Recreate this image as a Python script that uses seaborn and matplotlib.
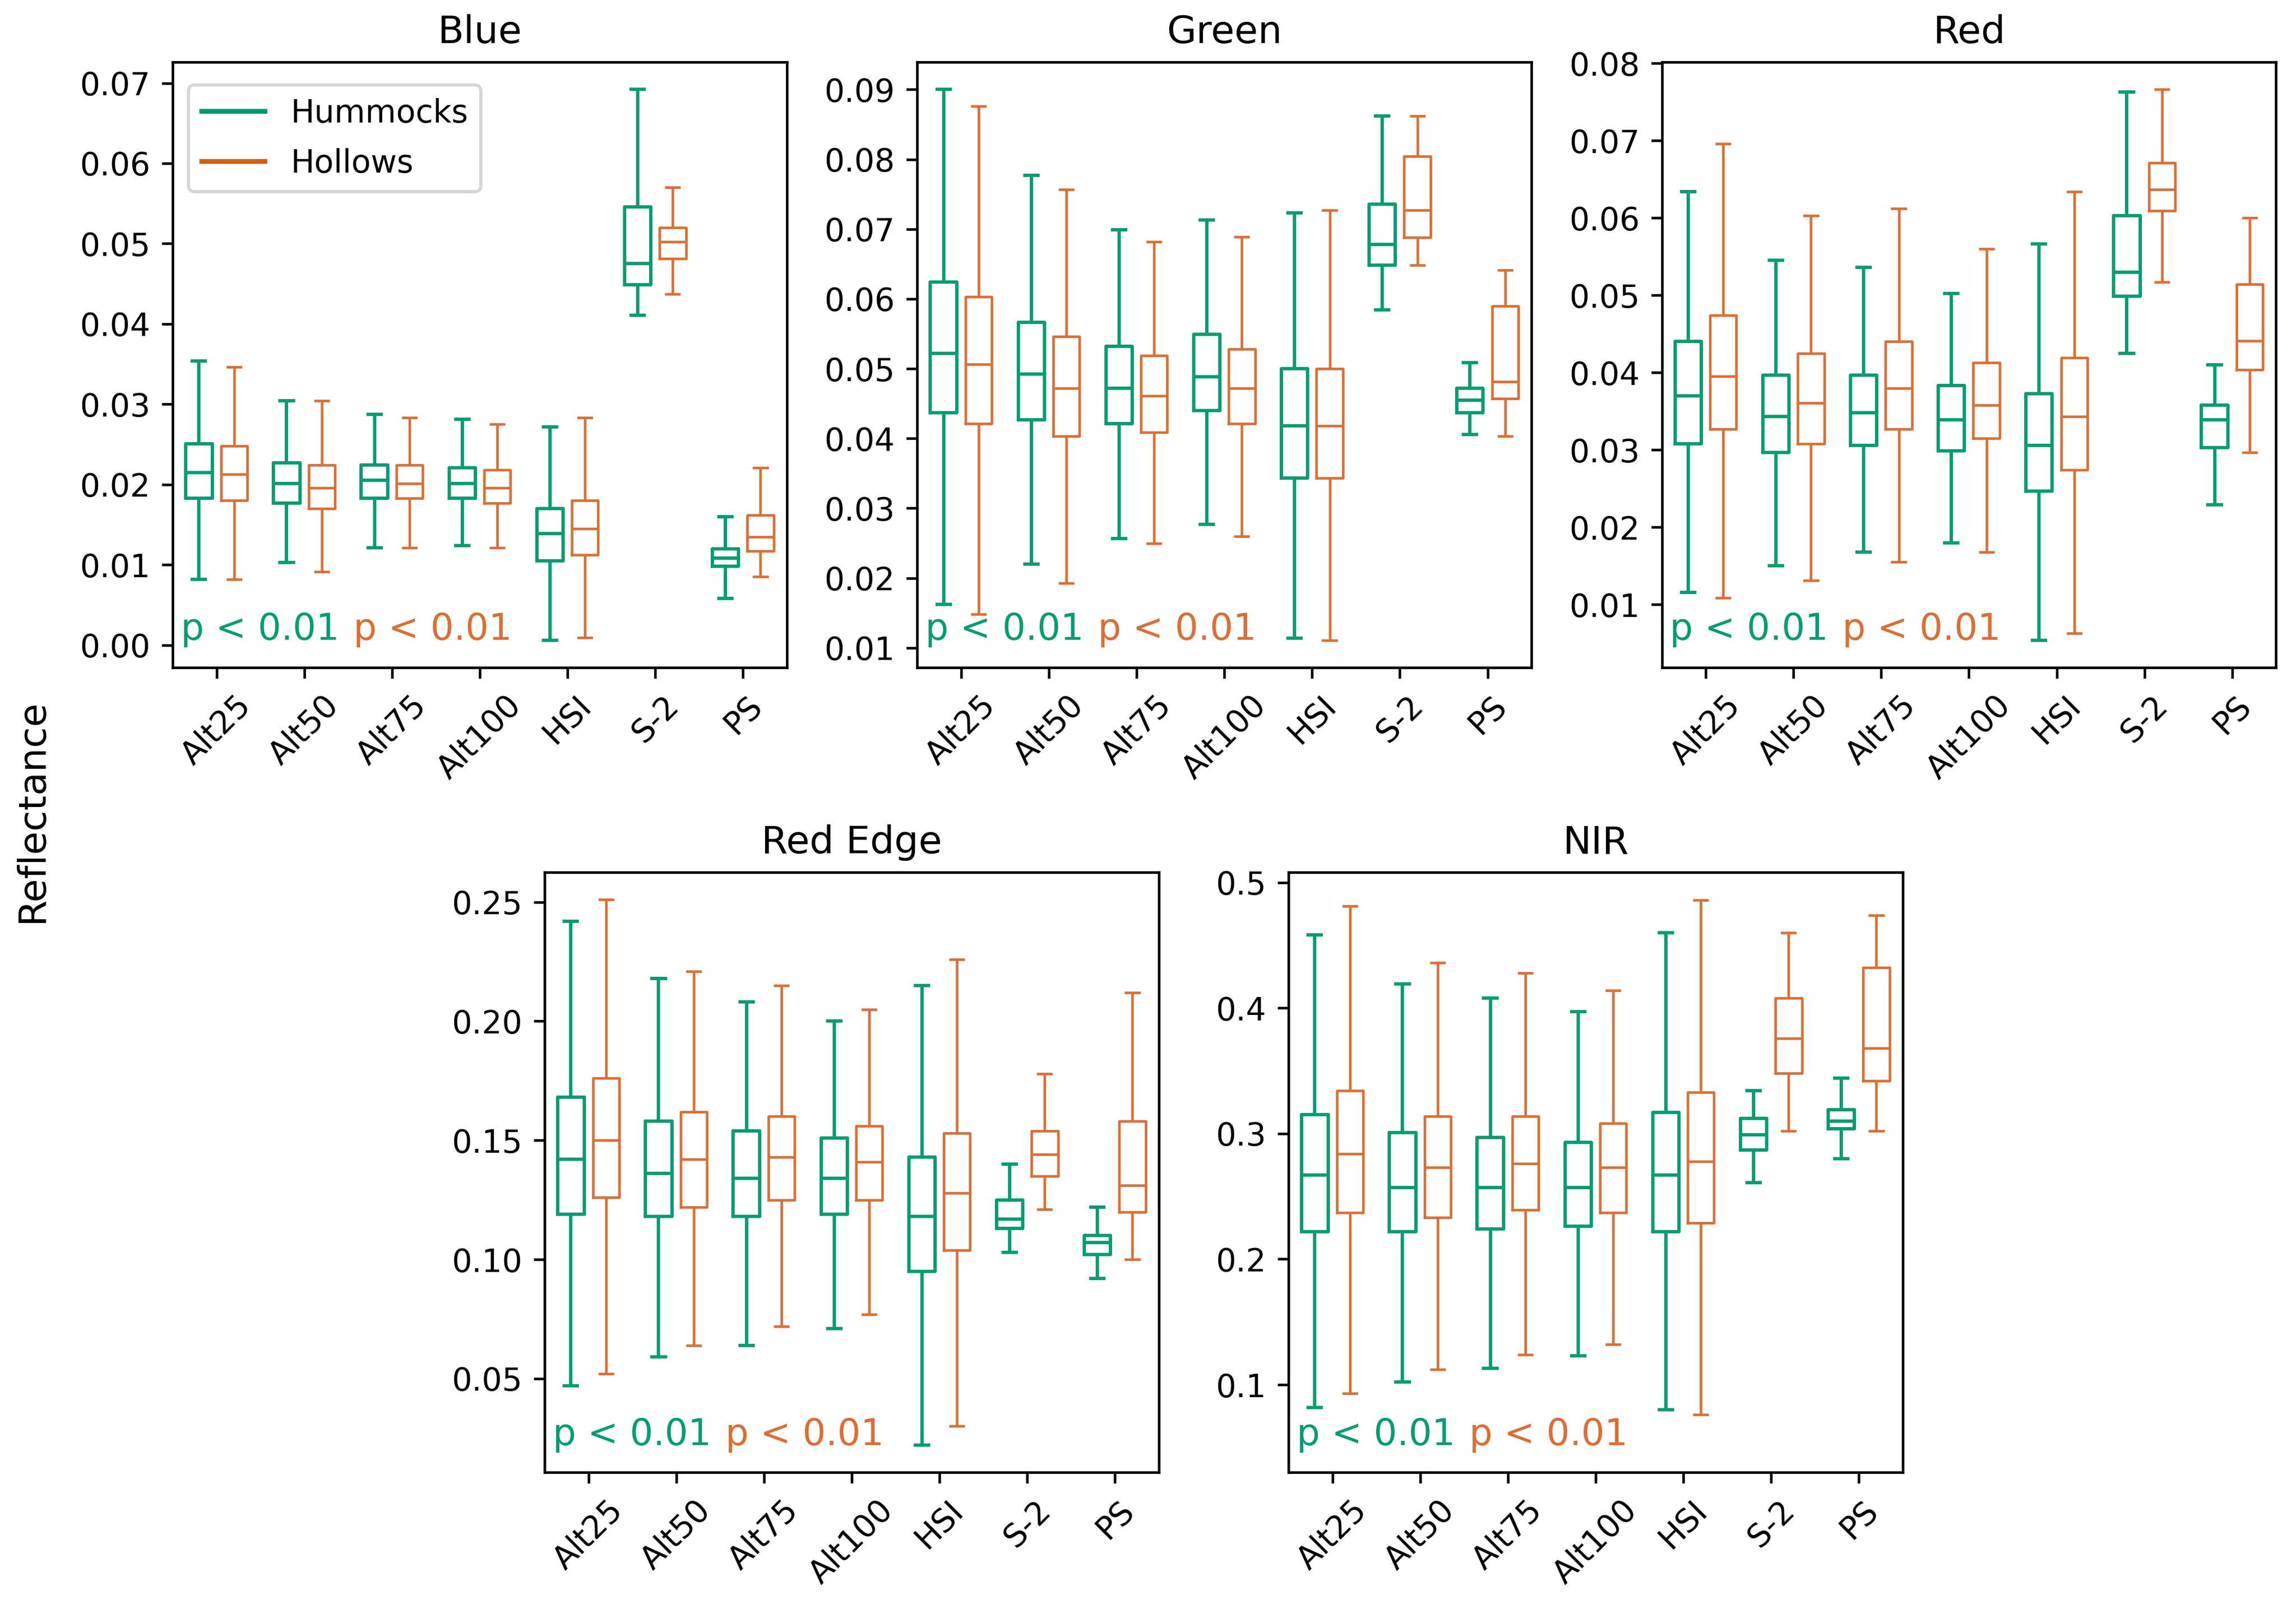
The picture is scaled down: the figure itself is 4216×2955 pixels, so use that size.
import pandas as pd
import numpy as np
import matplotlib.pyplot as plt
import matplotlib.colors as mcolors
import seaborn as sns
from matplotlib.lines import Line2D

# box stats per sensor: [whisker low, q1, median, q3, whisker high]
sensors = ['Alt25', 'Alt50', 'Alt75', 'Alt100', 'HSI', 'S-2', 'PS']
groups = ['Hummocks', 'Hollows']
bands = ['Blue', 'Green', 'Red', 'Red Edge', 'NIR']

blue_hum = [[0.0082, 0.0183, 0.0215, 0.0251, 0.0354],
            [0.0103, 0.0177, 0.0201, 0.0227, 0.0304],
            [0.0121, 0.0183, 0.0205, 0.0224, 0.0287],
            [0.0124, 0.0183, 0.0201, 0.0221, 0.0281],
            [0.0006, 0.0105, 0.0139, 0.0170, 0.0272],
            [0.0411, 0.0449, 0.0475, 0.0546, 0.0692],
            [0.0058, 0.0098, 0.0108, 0.0120, 0.0160]]
blue_hol = [[0.0082, 0.0180, 0.0213, 0.0248, 0.0346],
            [0.0091, 0.0170, 0.0196, 0.0224, 0.0304],
            [0.0121, 0.0183, 0.0201, 0.0224, 0.0283],
            [0.0121, 0.0177, 0.0196, 0.0218, 0.0275],
            [0.0009, 0.0112, 0.0145, 0.0180, 0.0283],
            [0.0437, 0.0481, 0.0502, 0.0520, 0.0570],
            [0.0085, 0.0117, 0.0135, 0.0162, 0.0221]]

green_hum = [[0.0162, 0.0437, 0.0522, 0.0624, 0.0900],
             [0.0220, 0.0427, 0.0492, 0.0566, 0.0777],
             [0.0257, 0.0421, 0.0472, 0.0532, 0.0699],
             [0.0277, 0.0440, 0.0488, 0.0549, 0.0713],
             [0.0114, 0.0343, 0.0418, 0.0500, 0.0723],
             [0.0584, 0.0648, 0.0678, 0.0736, 0.0862],
             [0.0406, 0.0437, 0.0455, 0.0472, 0.0509]]
green_hol = [[0.0148, 0.0421, 0.0506, 0.0603, 0.0876],
             [0.0193, 0.0403, 0.0472, 0.0546, 0.0757],
             [0.0250, 0.0409, 0.0461, 0.0519, 0.0682],
             [0.0260, 0.0421, 0.0472, 0.0528, 0.0689],
             [0.0111, 0.0343, 0.0418, 0.0500, 0.0727],
             [0.0648, 0.0688, 0.0727, 0.0804, 0.0862],
             [0.0403, 0.0457, 0.0481, 0.0590, 0.0641]]

red_hum = [[0.0116, 0.0308, 0.0370, 0.0440, 0.0634],
           [0.0150, 0.0297, 0.0343, 0.0397, 0.0545],
           [0.0168, 0.0306, 0.0348, 0.0397, 0.0536],
           [0.0180, 0.0299, 0.0339, 0.0383, 0.0502],
           [0.0054, 0.0247, 0.0306, 0.0373, 0.0566],
           [0.0425, 0.0499, 0.0530, 0.0603, 0.0763],
           [0.0229, 0.0303, 0.0339, 0.0358, 0.0410]]
red_hol = [[0.0109, 0.0327, 0.0395, 0.0474, 0.0696],
           [0.0131, 0.0308, 0.0361, 0.0425, 0.0603],
           [0.0155, 0.0327, 0.0380, 0.0440, 0.0612],
           [0.0168, 0.0315, 0.0358, 0.0413, 0.0560],
           [0.0063, 0.0274, 0.0343, 0.0419, 0.0634],
           [0.0517, 0.0609, 0.0637, 0.0671, 0.0766],
           [0.0297, 0.0404, 0.0441, 0.0514, 0.0600]]

rededge_hum = [[0.047, 0.119, 0.142, 0.168, 0.242],
               [0.059, 0.118, 0.136, 0.158, 0.218],
               [0.064, 0.118, 0.134, 0.154, 0.208],
               [0.071, 0.119, 0.134, 0.151, 0.200],
               [0.022, 0.095, 0.118, 0.143, 0.215],
               [0.103, 0.113, 0.117, 0.125, 0.140],
               [0.092, 0.102, 0.107, 0.110, 0.122]]
rededge_hol = [[0.052, 0.126, 0.150, 0.176, 0.251],
               [0.064, 0.122, 0.142, 0.162, 0.221],
               [0.072, 0.125, 0.143, 0.160, 0.215],
               [0.077, 0.125, 0.141, 0.156, 0.205],
               [0.030, 0.104, 0.128, 0.153, 0.226],
               [0.121, 0.135, 0.144, 0.154, 0.178],
               [0.100, 0.120, 0.131, 0.158, 0.212]]

nir_hum = [[0.082, 0.222, 0.267, 0.315, 0.458],
           [0.102, 0.222, 0.257, 0.301, 0.419],
           [0.113, 0.224, 0.257, 0.297, 0.408],
           [0.123, 0.226, 0.257, 0.293, 0.397],
           [0.080, 0.222, 0.267, 0.317, 0.460],
           [0.261, 0.287, 0.299, 0.312, 0.334],
           [0.280, 0.304, 0.310, 0.319, 0.344]]
nir_hol = [[0.093, 0.237, 0.284, 0.334, 0.481],
           [0.112, 0.233, 0.273, 0.314, 0.436],
           [0.124, 0.239, 0.276, 0.314, 0.428],
           [0.132, 0.237, 0.273, 0.308, 0.414],
           [0.076, 0.229, 0.278, 0.333, 0.486],
           [0.302, 0.348, 0.376, 0.408, 0.460],
           [0.302, 0.342, 0.368, 0.432, 0.474]]

p_text = 'p < 0.01'
nir_ylim = (0.030, 0.508)

stats = {'Blue': (blue_hum, blue_hol), 'Green': (green_hum, green_hol),
         'Red': (red_hum, red_hol), 'Red Edge': (rededge_hum, rededge_hol),
         'NIR': (nir_hum, nir_hol)}

# five values per box -> quartiles land exactly on q1/median/q3, whiskers on min/max
rows = []
for band in bands:
    for grp, table in zip(groups, stats[band]):
        for sensor, vals in zip(sensors, table):
            for v in vals:
                rows.append((band, grp, sensor, v))
df = pd.DataFrame(rows, columns=['band', 'group', 'sensor', 'value'])

green = '#009e73'
orange = '#de6d31'
palette = {'Hummocks': green, 'Hollows': orange}

fig = plt.figure(figsize=(4216 / 420, 2955 / 420), dpi=420)
positions = [[0.0752, 0.585, 0.2675, 0.3765],
             [0.3995, 0.585, 0.2675, 0.3765],
             [0.7238, 0.585, 0.2675, 0.3765],
             [0.2372, 0.0848, 0.2675, 0.3730],
             [0.5612, 0.0848, 0.2675, 0.3730]]

for band, pos in zip(bands, positions):
    ax = fig.add_axes(pos)
    sub = df[df.band == band]
    sns.boxplot(data=sub, x='sensor', y='value', hue='group',
                order=sensors, hue_order=groups, palette=palette, fill=False,
                whis=(0, 100), gap=0.25, linewidth=1.0, legend=False, ax=ax)
    # hummocks drawn a touch heavier than hollows
    for ln in ax.lines:
        if mcolors.to_hex(ln.get_color()) == orange:
            ln.set_linewidth(0.8)
        else:
            ln.set_linewidth(1.05)
    if band == 'NIR':
        ax.set_ylim(nir_ylim)
    ax.set_title(band, fontsize=12)
    ax.set_xlabel('')
    ax.set_ylabel('')
    ax.tick_params(axis='x', rotation=45)
    ax.text(0.013, 0.046, p_text, color=green, fontsize=11.5, transform=ax.transAxes, va='baseline')
    ax.text(0.294, 0.046, p_text, color=orange, fontsize=11.5, transform=ax.transAxes, va='baseline')
    if band == 'Blue':
        handles = [Line2D([], [], color='#00996e', lw=1.5), Line2D([], [], color='#d4600e', lw=1.5)]
        ax.legend(handles, groups, loc='upper left', bbox_to_anchor=(0, 0.988),
                  labelspacing=0.6)

fig.text(0.014, 0.496, 'Reflectance', rotation=90, fontsize=12, va='center', ha='center')
fig.savefig('out.png', dpi=420)
